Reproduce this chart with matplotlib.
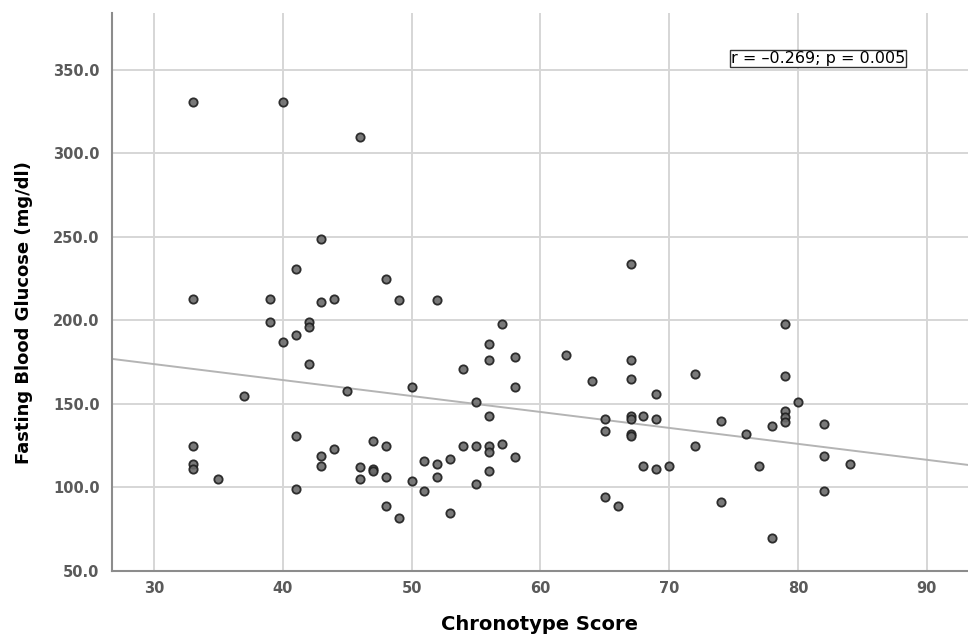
import numpy as np
import matplotlib
matplotlib.use("Agg")
import matplotlib.pyplot as plt

# chronotype score vs fasting glucose
chrono = [33, 33, 33, 33, 33, 35, 37, 39, 39, 40, 40,
          41, 41, 41, 41, 42, 42, 42, 43, 43, 43, 43, 44, 44, 45,
          46, 46, 46, 47, 47, 47, 48, 48, 48, 48, 49, 49, 50, 50,
          51, 51, 52, 52, 52, 53, 53, 54, 54, 55, 55, 55,
          56, 56, 56, 56, 56, 56, 57, 57, 58, 58, 58, 62, 64,
          65, 65, 65, 66, 67, 67, 67, 67, 67, 67, 67, 68, 68,
          69, 69, 69, 70, 72, 72, 74, 74, 76, 77, 78, 78,
          79, 79, 79, 79, 79, 80, 82, 82, 82, 84]
glucose = [331, 213, 125, 114, 111, 105, 155, 213, 199, 331, 187,
           231, 191, 131, 99, 199, 196, 174, 249, 211, 119, 113, 213, 123, 158,
           310, 112, 105, 128, 111, 110, 225, 125, 106, 89, 212, 82, 160, 104,
           116, 98, 212, 114, 106, 117, 85, 171, 125, 151, 125, 102,
           186, 176, 143, 125, 121, 110, 198, 126, 178, 160, 118, 179, 164,
           141, 134, 94, 89, 234, 176, 165, 143, 141, 132, 131, 143, 113,
           156, 141, 111, 113, 168, 125, 140, 91, 132, 113, 137, 70,
           198, 167, 146, 142, 139, 151, 138, 119, 98, 114]

# fit line as drawn in the figure
fit_slope = -0.955
fit_intercept = 202.5

x_ticks = [30, 40, 50, 60, 70, 80, 90]
y_ticks = [50, 100, 150, 200, 250, 300, 350]
stat_text = "r = \u20130.269; p = 0.005"

fig = plt.figure(figsize=(9.68, 6.35), dpi=100)
ax = fig.add_axes([0.1157, 0.1008, 0.8843, 0.8787])

ax.set_xlim(26.74, 93.2)
ax.set_ylim(50, 384)

ax.grid(True, color="#d6d6d6", linewidth=1.4)
ax.set_axisbelow(True)

xs = np.array(ax.get_xlim())
ax.plot(xs, fit_intercept + fit_slope * xs, color="#b4b4b4", linewidth=1.4, zorder=2)

ax.scatter(chrono, glucose, s=36, facecolor="#6b6b6b", edgecolor="#1e1e1e",
           linewidth=1.3, alpha=0.9, zorder=3)

ax.set_xticks(x_ticks)
ax.set_yticks(y_ticks)
ax.set_yticklabels([f"{v:.1f}" for v in y_ticks])
ax.tick_params(length=0, labelsize=10.5, labelcolor="#5a5a5a")
ax.tick_params(axis="y", pad=9)
ax.tick_params(axis="x", pad=7)
for lab in ax.get_xticklabels() + ax.get_yticklabels():
    lab.set_fontweight("bold")

for side in ["top", "right"]:
    ax.spines[side].set_visible(False)
for side in ["left", "bottom"]:
    ax.spines[side].set_color("#8c8c8c")
    ax.spines[side].set_linewidth(1.5)

ax.set_xlabel("Chronotype Score", fontsize=14, fontweight="bold", labelpad=14)
ax.set_ylabel("Fasting Blood Glucose (mg/dl)", fontsize=13, fontweight="bold")
ax.yaxis.set_label_coords(-0.092, 0.463)

ax.text(81.55, 356.9, stat_text, ha="center", va="center", fontsize=11.5,
        bbox=dict(boxstyle="square,pad=0.08", facecolor="white", edgecolor="#333333", linewidth=1.0))

plt.savefig("out.png", dpi=100)
